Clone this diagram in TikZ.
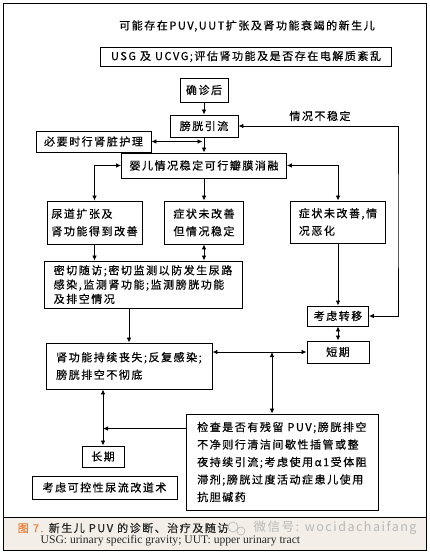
\documentclass[tikz,border=0pt]{standalone}
\usepackage{fontspec}
\setmainfont{Noto Sans CJK SC}[LetterSpace=14,FakeBold=0.5]
\newfontfamily\captionSerif{Liberation Serif}
\newfontfamily\markFont{Noto Sans CJK SC}[LetterSpace=12]
\usetikzlibrary{arrows.meta,calc,positioning}
\tikzset{
  flowBox/.style 2 args={draw,line width=0.9pt,inner sep=0pt,minimum width=#1,minimum height=#2},
  tightLines/.style={font=\fontsize{11}{14.3}\selectfont},
  markText/.style={text=wmGray,font=\markFont\fontsize{12.5}{14}\selectfont},
}
\definecolor{captionBg}{RGB}{243,238,231}
\definecolor{figOrange}{RGB}{238,128,58}
\colorlet{wmGray}{black!28!white}

\begin{document}
\begin{tikzpicture}[x=1pt,y=-1pt,font=\fontsize{11}{17.5}\selectfont,
    >={Latex[length=5pt,width=4.5pt]},line width=0.8pt]
  \useasboundingbox (0,0) rectangle (429,554);
  \fill[captionBg] (3,517) rectangle (426,550);
  \draw[line width=1pt] (3,3) rectangle (426,550);
  \draw[line width=1pt] (3,517) -- (426,517);

  % boxes
  \node at (247,26) (suspect) {可能存在PUV,UUT扩张及肾功能衰竭的新生儿};
  \node[flowBox={291}{19}] at (246,56.5) (usgBox) {USG 及 UCVG;评估肾功能及是否存在电解质紊乱};
  \node[flowBox={48}{24}] at (204,90) (diagnosed) {确诊后};
  \node[flowBox={68}{22}] at (204,126) (drainage) {膀胱引流};
  \node at (320,116) (unstable) {情况不稳定};
  \node[flowBox={115}{21}] at (93.5,141.5) (renalCare) {必要时行肾脏护理};
  \node[flowBox={165}{25}] at (204,165.5) (ablation) {婴儿情况稳定可行瓣膜消融};
  \node[flowBox={95}{43},align=left] at (94.5,222.5) (improved) {尿道扩张及\\肾功能得到改善};
  \node[flowBox={79}{43},align=left] at (204,222.5) (stable) {症状未改善\\但情况稳定};
  \node[flowBox={95}{42},align=left] at (338,222) (worse) {症状未改善,情\\况恶化};
  \node[flowBox={198}{47},align=left,tightLines] at (143,284.5) (followUp) {密切随访;密切监测以防发生尿路\\感染,监测肾功能;监测膀胱功能\\及排空情况};
  \node[flowBox={61}{20}] at (338,316) (transfer) {考虑转移};
  \node[flowBox={62}{22}] at (338,352) (shortTerm) {短期};
  \node[flowBox={166}{46},align=left] at (129,366) (renalLoss) {肾功能持续丧失;反复感染;\\膀胱排空不彻底};
  \node[flowBox={42}{21}] at (103,456.5) (longTerm) {长期};
  \node[flowBox={145}{23}] at (104.5,487.5) (diversion) {考虑可控性尿流改道术};
  \node[flowBox={192}{96},align=left] at (282,462) (check) {检查是否有残留 PUV;膀胱排空\\不净则行清洁间歇性插管或整\\夜持续引流;考虑使用α1受体阻\\滞剂;膀胱过度活动症患儿使用\\抗胆碱药};

  % connectors
  \coordinate (rightTurn) at (398,220);
  \coordinate (checkJoin) at (272,352);
  \path[->] (diagnosed) edge (drainage);
  \path[->] (drainage) edge (ablation);
  \path[<->] (renalCare) edge[shorten >=1.5pt] (renalCare.east -| drainage.south);
  \draw[<->] (improved) |- (ablation);
  \draw[<->] (worse) |- (ablation);
  \path[->] (ablation) edge (stable);
  \path[->] (improved) edge (improved.south |- followUp.north);
  \path[<->] (stable) edge (stable.south |- followUp.north);
  \path[->] (followUp.south -| renalLoss.north) edge (renalLoss);
  \path[->] (worse) edge (transfer);
  \draw[<->] (drainage) -| (rightTurn) |- (transfer);
  \path[<->] (transfer) edge (shortTerm);
  \path[<->] (shortTerm) edge (shortTerm.west -| renalLoss.east);
  \path[<->] (checkJoin) edge (checkJoin |- check.north);
  \path[<->] (renalLoss.south -| longTerm.north) edge (longTerm);
  \path[->] ([yshift=-15pt]check.north west) edge ([yshift=-15pt]check.north west -| longTerm.north);

  % caption
  \node[anchor=west] at (14,528) (figTitle) {{\color{figOrange}图 7.} {\color{black!85}新生儿 PUV 的诊断、治疗及随访}};
  \node[anchor=west,font=\captionSerif\fontsize{11.6}{13}\selectfont,text=black!85] at (37,540.5) (figNote) {USG: urinary specific gravity; UUT: upper urinary tract};
  \draw[wmGray,line width=0.7pt] (233,527) circle (5) (241,531) circle (4);
  \node[anchor=west,markText] at (250,528) (watermark) {微信号: wocidachaifang};
\end{tikzpicture}
\end{document}
